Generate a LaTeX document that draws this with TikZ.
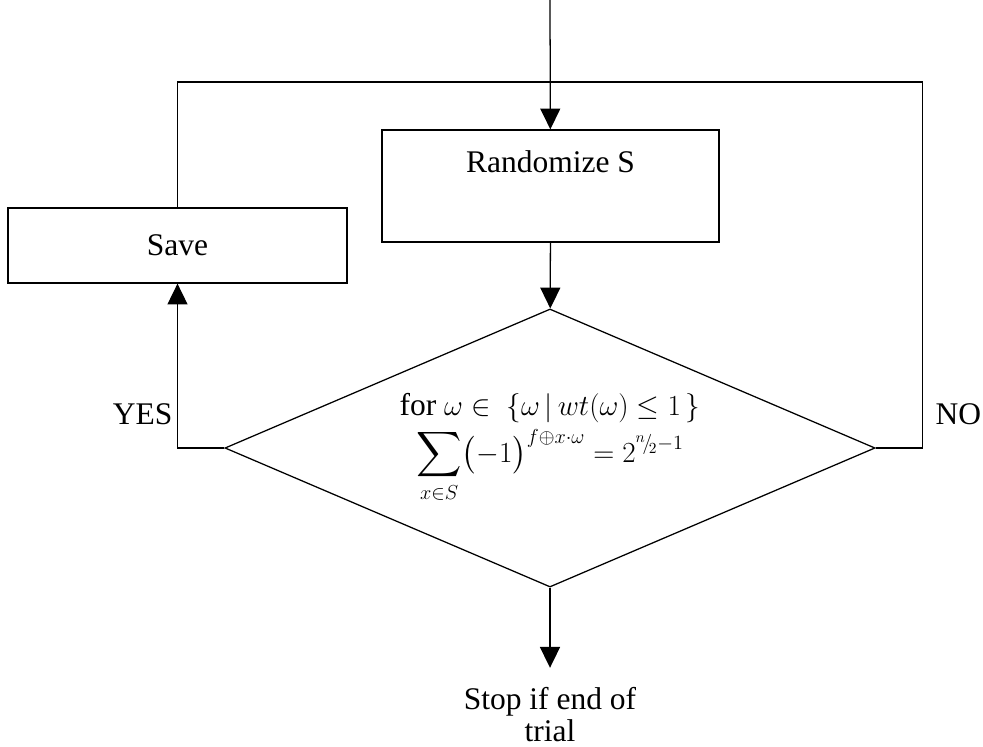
\documentclass[tikz,border=0pt]{standalone}
\usepackage{amsmath, amssymb}
\usepackage{fontspec}
\setmainfont{Liberation Serif}
\usetikzlibrary{positioning,arrows.meta,shapes.geometric}

\begin{document}
\begin{tikzpicture}[x=0.025cm, y=-0.025cm, line width=0.9pt,
    >={Triangle[width=0.5cm,length=0.52cm]},
    every node/.style={font=\fontsize{22.4}{22.5}\selectfont},
    procbox/.style={draw, rectangle, inner sep=0pt, align=center},
    decision/.style={draw, diamond, aspect=2.34, inner sep=0pt, align=center,
      minimum width=16.25cm, minimum height=6.95cm}]
  \useasboundingbox (0,0) rectangle (983,747);
  \node[procbox, minimum width=8.425cm, minimum height=2.8cm, text depth=1.22cm] (rand) at (550.5,186) {Randomize S};
  \node[procbox, minimum width=8.475cm, minimum height=1.875cm] (save) at (177.5,245.5) {Save};
  \node[decision] (test) at (550,448) {for $\omega\in\ \{\omega\,|\,wt(\omega)\le 1\,\}$\\[4pt]
    $\displaystyle\sum_{x\in S}\bigl(-1\bigr)^{f\oplus x\cdot\omega}=2^{{}^{n}\!/\!_{2}-1}$};
  \node[anchor=north, inner sep=0pt, align=center] (stop) at (550,687) {Stop if end of\\trial};
  \node[anchor=base east, inner sep=0pt] (yes) at (173,424) {YES};
  \node[anchor=base west, inner sep=0pt] (no) at (935,424) {NO};
  \coordinate (in) at (550,0);
  \coordinate (ne) at (922.5,82);
  % flow
  \draw[->] (in) -- (rand);
  \draw[->] (rand) -- (test);
  \draw[->] (test.west) -| (save.south);
  \draw (test.east) -| (ne) -| (save.north);
  \draw[->, shorten >=0.48cm] (test) -- (stop);
\end{tikzpicture}
\end{document}
